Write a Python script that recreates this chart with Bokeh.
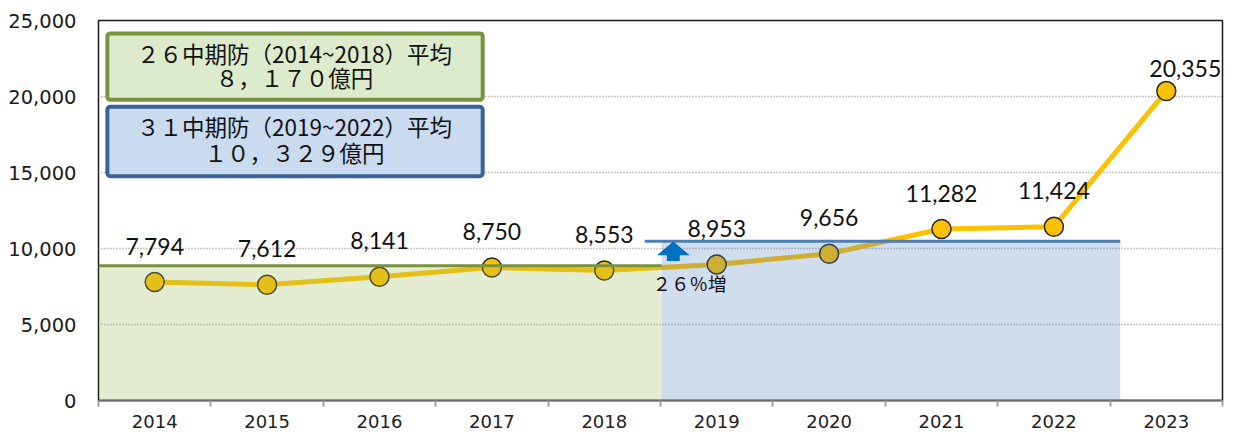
from bokeh.plotting import figure
from bokeh.models import Range1d, FixedTicker, BoxAnnotation, Label, ColumnDataSource
from bokeh.core.properties import value
from bokeh.embed import file_html
from bokeh.resources import INLINE

# ---- data ----
years = ["2014", "2015", "2016", "2017", "2018", "2019", "2020", "2021", "2022", "2023"]
budget = [7794, 7612, 8141, 8750, 8553, 8953, 9656, 11282, 11424, 20355]
y_ticks = [0, 5000, 10000, 15000, 20000, 25000]
y_tick_labels = ["0", "5,000", "10,000", "15,000", "20,000", "25,000"]
period_names = ["２６中期防（2014~2018）平均", "３１中期防（2019~2022）平均"]
period_avgs = ["８，１７０億円", "１０，３２９億円"]
band_tops = [8870, 10475]          # drawn heights of the shaded average bands
band_starts = [0.0, 5.01]          # in category units
band_ends = [5.01, 9.09]
increase_text = "２６％増"

xs = [i + 0.5 for i in range(len(years))]
labels = [f"{v:,}" for v in budget]

p = figure(width=1224, height=430, output_backend="svg", toolbar_location=None,
           x_range=Range1d(0, 10), y_range=Range1d(0, 25000),
           min_border_left=98, min_border_right=2, min_border_top=20, min_border_bottom=26)
p.background_fill_color = "white"
p.border_fill_color = "white"
p.outline_line_color = "#1a1a1a"
p.outline_line_width = 1.5

# x axis: labels at centres, tick marks at boundaries
p.xaxis.ticker = FixedTicker(ticks=xs, minor_ticks=list(range(0, 11)))
p.xaxis.major_label_overrides = {x: y for x, y in zip(xs, years)}
p.xaxis.major_tick_line_color = None
p.xaxis.major_tick_out = 0
p.xaxis.major_tick_in = 0
p.xaxis.minor_tick_line_color = "#a0a0a0"
p.xaxis.minor_tick_line_width = 2
p.xaxis.minor_tick_out = 6
p.xaxis.minor_tick_in = 0
p.xaxis.axis_line_color = "#6e6e6e"
p.xaxis.axis_line_width = 2
p.xaxis.major_label_standoff = 8
p.xaxis.major_label_text_font = "DejaVu Sans"
p.xaxis.major_label_text_font_size = "18px"
p.xaxis.major_label_text_color = "#222222"

p.yaxis.ticker = FixedTicker(ticks=y_ticks)
p.yaxis.major_label_overrides = {t: l for t, l in zip(y_ticks, y_tick_labels)}
p.yaxis.major_tick_line_color = None
p.yaxis.minor_tick_line_color = None
p.yaxis.major_tick_out = 0
p.yaxis.axis_line_color = None
p.yaxis.major_label_standoff = 22
p.yaxis.major_label_text_font = "DejaVu Sans"
p.yaxis.major_label_text_font_size = "19.5px"
p.yaxis.major_label_text_color = "#1a1a1a"

p.xgrid.grid_line_color = None
p.ygrid.ticker = FixedTicker(ticks=y_ticks[1:-1])
p.ygrid.grid_line_color = "#8f8f8f"
p.ygrid.grid_line_dash = "1 2"
p.ygrid.grid_line_width = 1.5

# line + markers
src = ColumnDataSource(dict(x=xs, y=budget, label=labels))
p.line("x", "y", source=src, line_color="#FFC000", line_width=5)
p.scatter("x", "y", source=src, size=19, fill_color="#FFC000",
          line_color="#262626", line_width=1.5)

# shaded average bands (semi-transparent, over the line)
band_fill = ["#9BBB59", "#4F81BD"]
band_line = ["#77933C", "#4A7EBB"]
p.quad(left=band_starts, right=band_ends, bottom=[0, 0], top=band_tops,
       fill_color=band_fill, fill_alpha=0.27, line_color=None)
p.segment(x0=[band_starts[0], 4.86], x1=band_ends, y0=band_tops, y1=band_tops,
          line_color=band_line, line_width=3)

# up arrow
ax = 5.114
p.patch(x=[ax - 0.145, ax, ax + 0.145, ax + 0.057, ax + 0.057, ax - 0.057, ax - 0.057],
        y=[9559, 10460, 9559, 9559, 9173, 9173, 9559],
        fill_color="#0070C0", line_color=None)

# data labels
p.text(x=xs[:-1], y=budget[:-1], text=labels[:-1], y_offset=-36,
       text_align="center", text_baseline="middle",
       text_font=value("Lato"), text_font_size="23px", text_color="#111111")
p.text(x=xs[-1:], y=budget[-1:], text=labels[-1:], x_offset=19, y_offset=-23,
       text_align="center", text_baseline="middle",
       text_font=value("Lato"), text_font_size="23px", text_color="#111111")

p.add_layout(Label(x=5.259, y=7759, text=increase_text, text_align="center",
                   text_baseline="middle", text_font="Noto Sans CJK JP",
                   text_font_size="18.5px", text_color="#111111"))

# period boxes
box_specs = [(24152, 19780, "#DCEBCB", "#77933C"), (19323, 14759, "#CADBF0", "#3B6397")]
for (top, bottom, fc, lc) in box_specs:
    p.add_layout(BoxAnnotation(left=0.079, right=3.418, top=top, bottom=bottom,
                               fill_color=fc, fill_alpha=1.0, line_color=lc,
                               line_width=4, line_alpha=1.0, border_radius=3))

text_rows = [(22867, period_names[0]), (21260, period_avgs[0]),
             (18046, period_names[1]), (16374, period_avgs[1])]
for (yy, t) in text_rows:
    p.add_layout(Label(x=1.744, y=yy, text=t, text_align="center", text_baseline="middle",
                       text_font="Noto Sans CJK JP", text_font_size="22.5px",
                       text_color="#111111"))

open("out.html", "w").write(file_html(p, INLINE))
